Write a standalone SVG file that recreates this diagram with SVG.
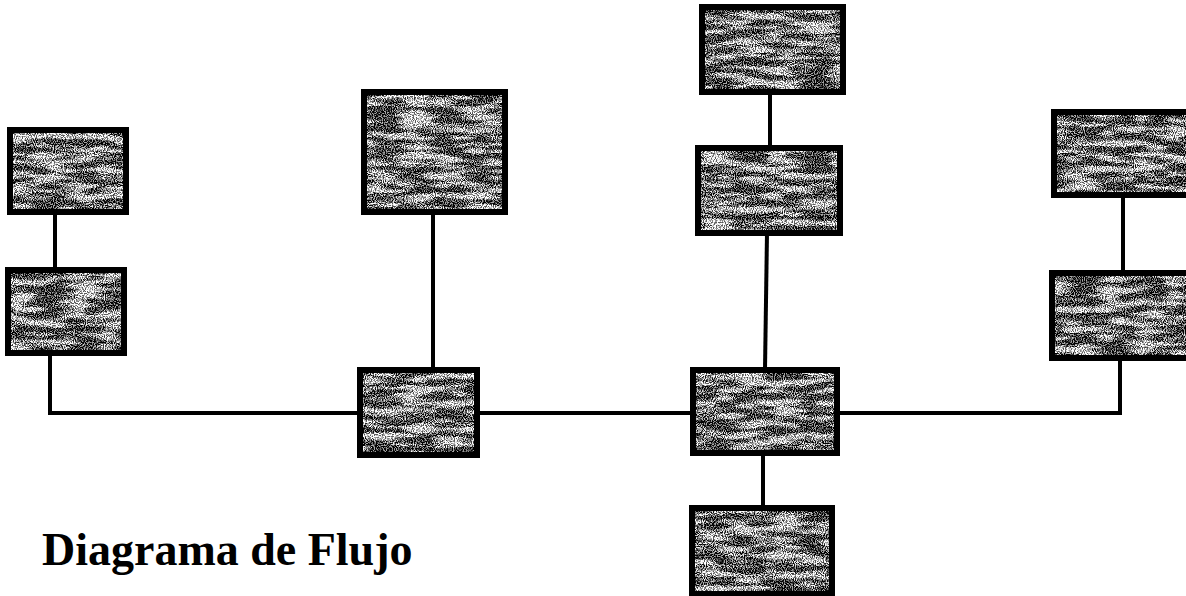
<svg xmlns="http://www.w3.org/2000/svg" width="1186" height="596" viewBox="0 0 1186 596">
<style>
.box{fill:#ffffff;stroke:#000000;stroke-width:6;filter:url(#tex)}
.wire{fill:none;stroke:#000000;stroke-width:4;stroke-linejoin:miter;stroke-linecap:square}
.title{font-family:"Liberation Serif","Times New Roman",serif;font-weight:bold;font-size:46px;fill:#000000}
</style>
<defs>
<filter id="tex" x="-0.05" y="-0.08" width="1.1" height="1.16" color-interpolation-filters="sRGB">
<feTurbulence type="fractalNoise" baseFrequency="0.9" numOctaves="1" seed="3" result="t1"/>
<feColorMatrix in="t1" type="matrix" values="4 0 0 0 -1.5  4 0 0 0 -1.5  4 0 0 0 -1.5  0 0 0 0 1" result="f1"/>
<feTurbulence type="fractalNoise" baseFrequency="0.03 0.15" numOctaves="2" seed="11" result="t2"/>
<feColorMatrix in="t2" type="matrix" values="4 0 0 0 -1.4  4 0 0 0 -1.4  4 0 0 0 -1.4  0 0 0 0 1" result="f2"/>
<feComposite in="f1" in2="f2" operator="arithmetic" k1="0" k2="0.9" k3="0.6" k4="-0.25" result="sum"/>
<feColorMatrix in="sum" type="matrix" values="0 0 0 0 0  0 0 0 0 0  0 0 0 0 0  1 0 0 0 0" result="a"/>
<feComposite in="a" in2="SourceAlpha" operator="in" result="dots"/>
<feMerge><feMergeNode in="SourceGraphic"/><feMergeNode in="dots"/></feMerge>
</filter>
</defs>
<rect x="0" y="0" width="1186" height="596" fill="#ffffff"/>
<g id="connectors">
<line class="wire" x1="55" y1="212" x2="55" y2="270"/>
<polyline class="wire" points="50,353 50,413 360,413"/>
<line class="wire" x1="433" y1="212" x2="433" y2="370"/>
<line class="wire" x1="477" y1="413" x2="693" y2="413"/>
<line class="wire" x1="770" y1="92" x2="770" y2="148"/>
<line class="wire" x1="767" y1="233" x2="765" y2="370"/>
<line class="wire" x1="763" y1="453" x2="763" y2="508"/>
<line class="wire" x1="1123" y1="195" x2="1123" y2="273"/>
<polyline class="wire" points="837,413 1120,413 1120,358"/>
</g>
<g id="nodeA"><rect class="box" x="10" y="130" width="116" height="82"/></g>
<g id="nodeB"><rect class="box" x="8" y="270" width="116" height="83"/></g>
<g id="nodeD"><rect class="box" x="364" y="92" width="141" height="120"/></g>
<g id="nodeC"><rect class="box" x="360" y="370" width="117" height="85"/></g>
<g id="nodeF"><rect class="box" x="702" y="7" width="141" height="85"/></g>
<g id="nodeG"><rect class="box" x="698" y="148" width="142" height="85"/></g>
<g id="nodeE"><rect class="box" x="693" y="370" width="144" height="83"/></g>
<g id="nodeH"><rect class="box" x="692" y="508" width="140" height="86"/></g>
<g id="nodeI"><rect class="box" x="1054" y="112" width="145" height="83"/></g>
<g id="nodeJ"><rect class="box" x="1052" y="273" width="147" height="85"/></g>
<g id="title"><text class="title" x="42" y="565">Diagrama de Flujo</text></g>
</svg>
